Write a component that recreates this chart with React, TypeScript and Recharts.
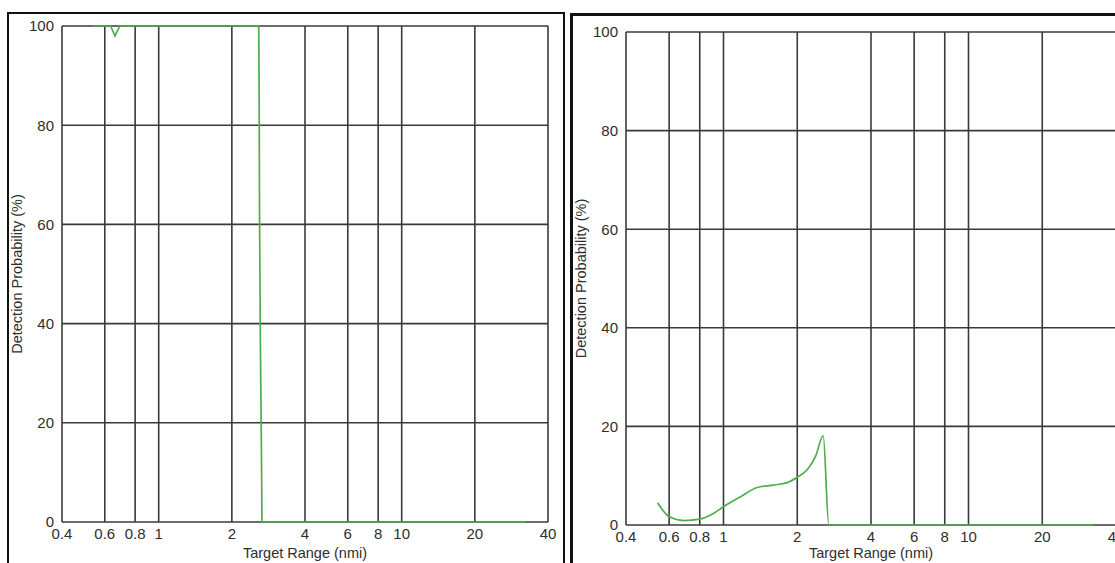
import { CartesianGrid, Line, LineChart, XAxis, YAxis } from "recharts";

// target range (nmi) / detection probability (%)
const leftRange = [0.536, 0.634, 0.661, 0.692, 2.58, 2.59, 2.6, 2.62, 2.65, 2.66, 32.5];
const leftProb = [100, 100, 98, 100, 100, 87, 62, 37, 12, 0, 0];

const rightRange = [
  0.538, 0.6, 0.689, 0.8, 0.913, 1, 1.17, 1.373, 1.603, 1.82, 2.0, 2.196, 2.375, 2.553, 2.69,
  32.3,
];
const rightProb = [4.5, 1.7, 0.9, 1.2, 2.4, 3.7, 5.7, 7.6, 8.1, 8.6, 9.7, 11.2, 13.9, 18.1, 0, 0];

const rangeTicks = [0.4, 0.6, 0.8, 1, 2, 4, 6, 8, 10, 20, 40];
const probTicks = [0, 20, 40, 60, 80, 100];

const leftData = leftRange.map((r, i) => ({ range: r, prob: leftProb[i] }));
const rightData = rightRange.map((r, i) => ({ range: r, prob: rightProb[i] }));

const font = "'Liberation Sans', Arial, sans-serif";
const tickStyle = { fontSize: 15, fill: "#2e2e2e", fontFamily: font, style: { fontSize: "15px" } };
const labelStyle = { fontSize: 14.5, fill: "#2e2e2e", fontFamily: font, textAnchor: "middle" as const };

type PanelProps = {
  data: { range: number; prob: number }[];
  left: number;
  width: number;
  top: number;
  right: number;
  xAxisHeight: number;
  curve: "linear" | "monotone";
};

function Panel({ data, left, width, top, right, xAxisHeight, curve }: PanelProps) {
  return (
    <div style={{ position: "absolute", left, top: 0 }}>
      <LineChart width={width} height={563} data={data} margin={{ top, right, bottom: 0, left: 0 }}>
        <CartesianGrid
          stroke="#3a3a3a"
          strokeWidth={1.6}
          verticalValues={rangeTicks}
          horizontalValues={probTicks}
        />
        <XAxis
          dataKey="range"
          type="number"
          scale="log"
          domain={[0.4, 40]}
          ticks={rangeTicks}
          interval={0}
          allowDataOverflow
          axisLine={false}
          tickLine={false}
          tickSize={0}
          tickMargin={6}
          height={xAxisHeight}
          fontSize={15}
          tick={tickStyle}
          label={{ value: "Target Range (nmi)", position: "insideBottom", offset: 5, style: labelStyle }}
        />
        <YAxis
          type="number"
          domain={[0, 100]}
          ticks={probTicks}
          interval={0}
          axisLine={false}
          tickLine={false}
          tickSize={0}
          tickMargin={8}
          width={62}
          fontSize={15}
          tick={tickStyle}
          label={{
            value: "Detection Probability (%)",
            angle: -90,
            position: "insideLeft",
            offset: 17,
            style: labelStyle,
          }}
        />
        <Line
          dataKey="prob"
          type={curve}
          stroke="#4cae4c"
          strokeWidth={1.7}
          dot={false}
          isAnimationActive={false}
        />
      </LineChart>
    </div>
  );
}

export default function App() {
  return (
    <div
      style={{
        position: "fixed",
        left: 0,
        top: 0,
        width: 1115,
        height: 563,
        background: "#fff",
        overflow: "hidden",
      }}
    >
      <div
        style={{
          position: "absolute",
          left: 7,
          top: 12,
          width: 554,
          height: 600,
          border: "2px solid #111",
        }}
      />
      <div
        style={{
          position: "absolute",
          left: 570,
          top: 13,
          width: 600,
          height: 600,
          border: "3px solid #111",
        }}
      />
      <Panel data={leftData} left={0} width={570} top={26} right={22} xAxisHeight={41} curve="linear" />
      <Panel data={rightData} left={564} width={600} top={32} right={48} xAxisHeight={38} curve="monotone" />
    </div>
  );
}
